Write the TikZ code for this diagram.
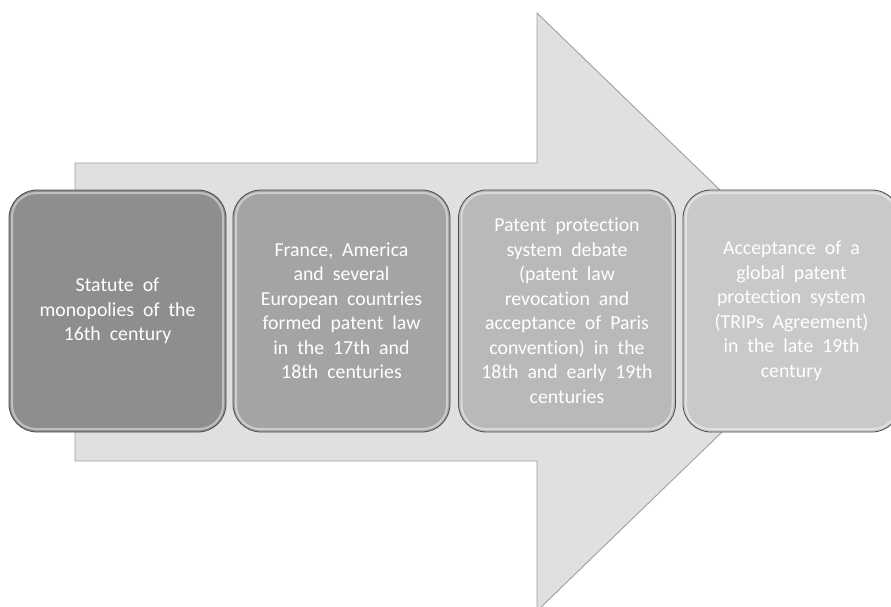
\documentclass[tikz,border=0pt]{standalone}
\usepackage{fontspec}
\setmainfont{Carlito}[WordSpace=2, Ligatures=NoCommon]
\usetikzlibrary{calc}

\definecolor{arrowfill}{HTML}{E0E0E0}
\definecolor{arrowline}{HTML}{A0A0A0}
\definecolor{stageA}{HTML}{8E8E8E}
\definecolor{stageB}{HTML}{A4A4A4}
\definecolor{stageC}{HTML}{B9B9B9}
\definecolor{stageD}{HTML}{C9C9C9}

\begin{document}
\begin{tikzpicture}[x=1pt,y=-1pt,
		arrowbody/.style={fill=arrowfill, draw=arrowline, line width=0.9pt},
		stage/.style={draw=black!70, line width=0.8pt, rounded corners=28pt,
			minimum width=217pt, minimum height=242pt, inner sep=0pt,
			align=center, text=white, font=\fontsize{19.8pt}{24.5pt}\selectfont,
			path picture={\draw[white, opacity=0.45, line width=2pt, rounded corners=24pt]
				([shift={(3pt,3pt)}]path picture bounding box.south west) rectangle
				([shift={(-3pt,-3pt)}]path picture bounding box.north east);}}]

		\clip (0,0) rectangle (891,606);

		\draw[arrowbody] (75,163) -- (537,163) -- (537,13) -- (846,312) -- (537,611) -- (537,461) -- (75,461) -- cycle;

		\node[stage, fill=stageA, at={(117.5,311)}] (statute) {Statute of\\monopolies of the\\16th century};
		\node[stage, fill=stageB, at={(341.5,311)}] (formed) {France, America\\and several\\European countries\\formed patent law\\in the 17th and\\18th centuries};
		\node[stage, fill=stageC, at={(567,311)}] (debate) {Patent protection\\system debate\\(patent law\\revocation and\\acceptance of Paris\\convention) in the\\18th and early 19th\\centuries};
		\node[stage, fill=stageD, at={(791.5,311)}] (trips) {Acceptance of a\\global patent\\protection system\\(TRIPs Agreement)\\in the late 19th\\century};

	\end{tikzpicture}
\end{document}
